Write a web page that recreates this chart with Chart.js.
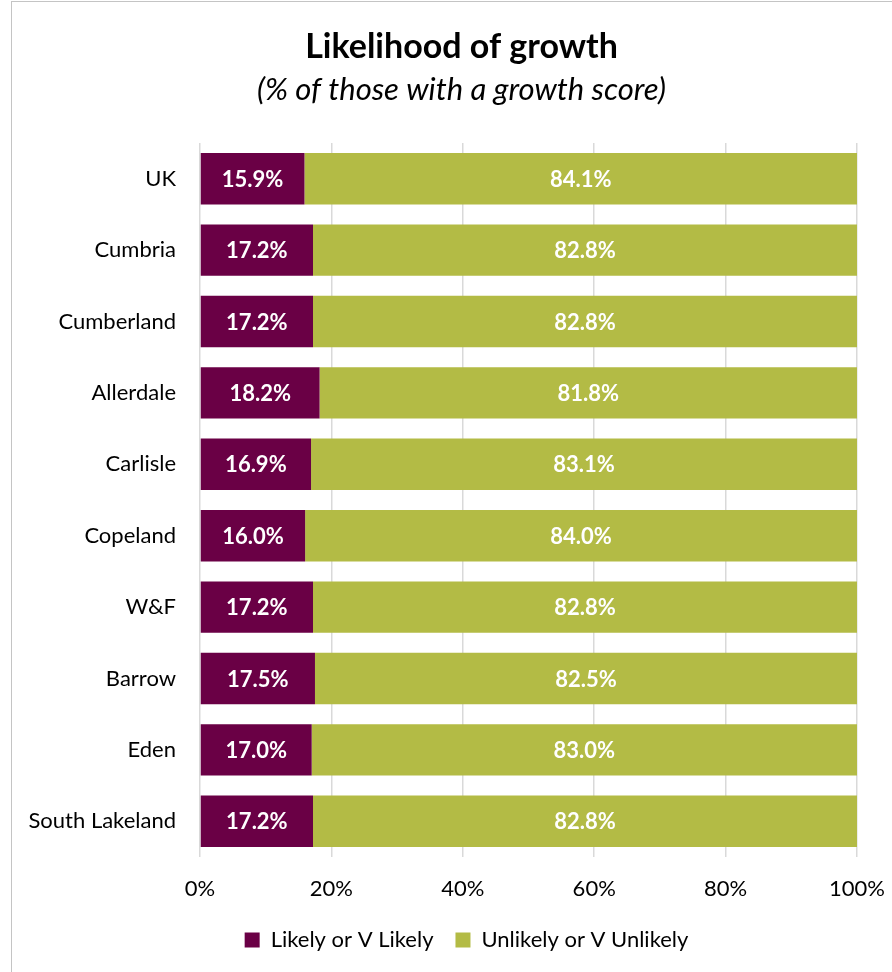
<!DOCTYPE html>
<html>
<head>
<meta charset="utf-8">
<script src="https://cdn.jsdelivr.net/npm/chart.js@4.4.1/dist/chart.umd.min.js"></script>
<style>
  html, body { margin: 0; padding: 0; background: #fff; overflow: hidden; }
  #frame {
    position: absolute; left: 11px; top: 1px;
    width: 900px; height: 990px;
    border: 1.5px solid #c4c4c4;
    background: #fff;
  }
</style>
</head>
<body>
<div id="frame"><canvas id="myChart" width="900" height="990"></canvas></div>
<script>
// Areas shown on the chart
const areas = ["UK", "Cumbria", "Cumberland", "Allerdale", "Carlisle", "Copeland", "W&F", "Barrow", "Eden", "South Lakeland"];

// Share of firms likely / unlikely to grow (%)
const likely = [15.9, 17.2, 17.2, 18.2, 16.9, 16.0, 17.2, 17.5, 17.0, 17.2];
const unlikely = [84.1, 82.8, 82.8, 81.8, 83.1, 84.0, 82.8, 82.5, 83.0, 82.8];

// Axis ticks
const xTicks = [0, 20, 40, 60, 80, 100];

const FONT = "Lato, 'Open Sans', sans-serif";

// Draws the white percentage inside each bar segment
const barLabels = {
  id: "barLabels",
  afterDatasetsDraw(chart) {
    const ctx = chart.ctx;
    ctx.save();
    ctx.fillStyle = "#ffffff";
    ctx.font = "bold 22px " + FONT;
    ctx.textAlign = "center";
    ctx.textBaseline = "middle";
    chart.data.datasets.forEach((ds, i) => {
      chart.getDatasetMeta(i).data.forEach((bar, j) => {
        const left = Math.min(bar.x, bar.base);
        const right = Math.max(bar.x, bar.base);
        ctx.fillText(ds.data[j].toFixed(1) + "%", (left + right) / 2, bar.y + 1);
      });
    });
    ctx.restore();
  },
};

// Title, subtitle and legend sit a bit right of the plot centre in the original
const nudgeBoxes = {
  id: "nudgeBoxes",
  afterLayout(chart) {
    chart.boxes.forEach((box) => {
      if (box.axis) return; // leave scales alone
      const dx = box === chart.legend ? 32 : 27;
      box.left += dx;
      box.right += dx;
    });
  },
};

const ctx = document.getElementById("myChart").getContext("2d");

const data = {
  labels: areas,
  datasets: [
    {
      label: "Likely or V Likely",
      data: likely,
      backgroundColor: "#6a0045",
      borderWidth: 0,
      barPercentage: 0.72,
      categoryPercentage: 1,
    },
    {
      label: "Unlikely or V Unlikely",
      data: unlikely,
      backgroundColor: "#b3bb45",
      borderWidth: 0,
      barPercentage: 0.72,
      categoryPercentage: 1,
    },
  ],
};

const config = {
  type: "bar",
  data: data,
  plugins: [barLabels, nudgeBoxes],
  options: {
    indexAxis: "y",
    responsive: false,
    animation: false,
    layout: { padding: { left: 0, right: 55, top: 0, bottom: 31 } },
    scales: {
      x: {
        stacked: true,
        min: 0,
        max: 100,
        afterBuildTicks: (scale) => {
          scale.ticks = xTicks.map((v) => ({ value: v }));
        },
        afterFit: (scale) => {
          scale.height = 50;
        },
        ticks: {
          padding: 19,
          color: "#000",
          font: { family: FONT, size: 22 },
          callback: (v) => v + "%",
        },
        grid: { color: "#d9d9d9", lineWidth: 1.5, drawTicks: false },
        border: { display: false },
      },
      y: {
        stacked: true,
        afterFit: (scale) => {
          scale.width = 188;
        },
        ticks: {
          padding: 16,
          color: "#000",
          font: { family: FONT, size: 22 },
        },
        grid: { display: false },
        border: { display: false },
      },
    },
    plugins: {
      title: {
        display: true,
        text: "Likelihood of growth",
        color: "#000",
        font: { family: FONT, size: 34, weight: "bold" },
        padding: { top: 25, bottom: 4 },
      },
      subtitle: {
        display: true,
        text: "(% of those with a growth score)",
        color: "#000",
        font: { family: FONT, size: 31, style: "italic" },
        padding: { top: 0, bottom: 34 },
      },
      legend: {
        position: "bottom",
        labels: {
          color: "#000",
          font: { family: FONT, size: 22 },
          boxWidth: 15,
          boxHeight: 15,
          padding: 22,
        },
      },
      tooltip: { enabled: false },
    },
  },
};

const myChart = new Chart(ctx, config);
</script>
</body>
</html>
